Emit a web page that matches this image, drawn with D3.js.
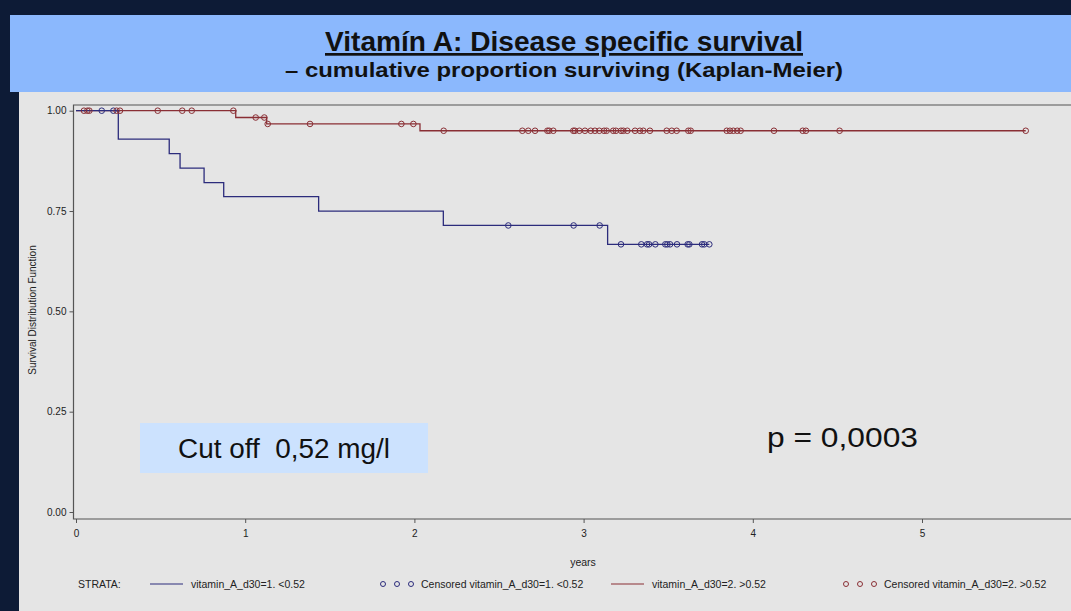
<!DOCTYPE html>
<html>
<head>
<meta charset="utf-8">
<script src="https://cdn.jsdelivr.net/npm/d3@7"></script>
<style>
  body { margin: 0; background: #0d1b36; }
  svg { display: block; font-family: "Liberation Sans", Arial, sans-serif; }
</style>
</head>
<body>
<div id="chart"></div>
<script>
// Kaplan-Meier step data
const lowTimes = [0, 0.25, 0.551, 0.615, 0.757, 0.873, 1.434, 2.171, 3.142];
const lowSurv = [1, 0.929, 0.893, 0.857, 0.821, 0.786, 0.75, 0.714, 0.667];
const lowEnd = 3.743;
const lowCensored = [0.152, 0.221, 2.555, 2.941, 3.095, 3.221, 3.341, 3.375, 3.387, 3.424,
    3.483, 3.495, 3.511, 3.552, 3.615, 3.625, 3.70, 3.713, 3.743];

const highTimes = [0, 0.944, 1.127, 2.033];
const highSurv = [1, 0.983, 0.967, 0.950];
const highEnd = 5.613;
const highCensored = [0.047, 0.067, 0.079, 0.24, 0.26, 0.483, 0.628, 0.684, 0.930, 1.062,
    1.113, 1.133, 1.383, 1.923, 1.994, 2.173, 2.638, 2.673, 2.713, 2.786, 2.797, 2.821,
    2.939, 2.949, 2.975, 3.008, 3.042, 3.067, 3.093, 3.121, 3.136, 3.175, 3.191, 3.221,
    3.235, 3.258, 3.304, 3.333, 3.353, 3.392, 3.491, 3.521, 3.550, 3.619, 3.633, 3.846,
    3.865, 3.885, 3.908, 3.928, 4.125, 4.295, 4.314, 4.513, 5.613];

const xTicks = [0, 1, 2, 3, 4, 5];
const yTicks = [0, 0.25, 0.5, 0.75, 1];

const legendItems = [
    {type: "line", color: "#2c2c7c", label: "vitamin_A_d30=1. <0.52"},
    {type: "dots", color: "#2c2c7c", label: "Censored vitamin_A_d30=1. <0.52"},
    {type: "line", color: "#8a2f35", label: "vitamin_A_d30=2. >0.52"},
    {type: "dots", color: "#8a2f35", label: "Censored vitamin_A_d30=2. >0.52"}
];

const W = 1071, H = 611;
const svg = d3.select("#chart").append("svg")
    .attr("width", W).attr("height", H);

// background layers
svg.append("rect").attr("width", W).attr("height", H).attr("fill", "#0d1b36");
svg.append("rect").attr("x", 10).attr("y", 15).attr("width", W - 10).attr("height", 77)
    .attr("fill", "#8bb8fd");
svg.append("rect").attr("x", 19).attr("y", 92).attr("width", W - 19).attr("height", H - 92)
    .attr("fill", "#e5e5e5");

// titles (stretched to the width seen in the picture)
svg.append("text").attr("x", 325).attr("y", 51)
    .attr("font-size", 27).attr("font-weight", "bold").attr("fill", "#111")
    .attr("text-decoration", "underline")
    .attr("textLength", 478).attr("lengthAdjust", "spacingAndGlyphs")
    .text("Vitamín A: Disease specific survival");
svg.append("text").attr("x", 285).attr("y", 77)
    .attr("font-size", 21).attr("font-weight", "bold").attr("fill", "#111")
    .attr("textLength", 558).attr("lengthAdjust", "spacingAndGlyphs")
    .text("– cumulative proportion surviving (Kaplan-Meier)");

const x = d3.scaleLinear().domain([0, 5]).range([76, 922]);
const y = d3.scaleLinear().domain([0, 1]).range([512, 110.7]);

const frameLeft = 73.5, frameTop = 105, frameBottom = 519;

// frame
svg.append("path")
    .attr("d", `M${W},${frameTop}H${frameLeft}V${frameBottom}H${W}`)
    .attr("fill", "none").attr("stroke", "#555").attr("stroke-width", 1.2);

// axes
const yAxis = svg.append("g")
    .attr("transform", `translate(${frameLeft},0)`)
    .call(d3.axisLeft(y).tickValues(yTicks).tickFormat(d3.format(".2f")).tickSize(4).tickPadding(3));
yAxis.select(".domain").remove();

const xAxis = svg.append("g")
    .attr("transform", `translate(0,${frameBottom})`)
    .call(d3.axisBottom(x).tickValues(xTicks).tickFormat(d3.format("d")).tickSize(4).tickPadding(7));
xAxis.select(".domain").remove();

[yAxis, xAxis].forEach(g => {
    g.selectAll("line").attr("stroke", "#555");
    g.selectAll("text").attr("font-size", 10).attr("fill", "#222")
        .style("font-family", "'Liberation Sans', Arial, sans-serif");
});

svg.append("text")
    .attr("transform", "translate(36,310) rotate(-90)")
    .attr("text-anchor", "middle").attr("font-size", 10).attr("fill", "#222")
    .text("Survival Distribution Function");
svg.append("text").attr("x", 583).attr("y", 566).attr("text-anchor", "middle")
    .attr("font-size", 10.5).attr("fill", "#222").text("years");

// survival curves
function stepPoints(times, surv, end) {
    const pts = times.map((t, i) => [t, surv[i]]);
    pts.push([end, surv[surv.length - 1]]);
    return pts;
}
function survAt(times, surv, t) {
    let s = surv[0];
    times.forEach((tt, i) => { if (tt <= t) s = surv[i]; });
    return s;
}
const line = d3.line().x(d => x(d[0])).y(d => y(d[1])).curve(d3.curveStepAfter);

const groups = [
    {times: lowTimes, surv: lowSurv, end: lowEnd, cens: lowCensored, color: "#2c2c7c"},
    {times: highTimes, surv: highSurv, end: highEnd, cens: highCensored, color: "#8a2f35"}
];

groups.slice().reverse().forEach(g => {
    svg.append("path")
        .datum(stepPoints(g.times, g.surv, g.end))
        .attr("d", line)
        .attr("fill", "none").attr("stroke", g.color).attr("stroke-width", 1.3);
});
groups.forEach(g => {
    svg.append("g").selectAll("circle")
        .data(g.cens)
        .join("circle")
        .attr("cx", d => x(d))
        .attr("cy", d => y(survAt(g.times, g.surv, d)))
        .attr("r", 2.8)
        .attr("fill", "none").attr("stroke", g.color).attr("stroke-width", 1);
});

// annotation box
svg.append("rect").attr("x", 140).attr("y", 423).attr("width", 288).attr("height", 50)
    .attr("fill", "#cce2fe");
svg.append("text").attr("x", 178).attr("y", 458)
    .attr("font-size", 27).attr("fill", "#111")
    .attr("textLength", 212).attr("lengthAdjust", "spacingAndGlyphs")
    .style("white-space", "pre")
    .text("Cut off  0,52 mg/l");
svg.append("text").attr("x", 767).attr("y", 447)
    .attr("font-size", 27).attr("fill", "#111")
    .attr("textLength", 151).attr("lengthAdjust", "spacingAndGlyphs")
    .text("p = 0,0003");

// legend
const legY = 584;
svg.append("text").attr("x", 78).attr("y", legY + 3.5).attr("font-size", 10.5).attr("fill", "#222")
    .text("STRATA:");
const legX = [150, 381, 611, 844];
const leg = svg.append("g");
legendItems.forEach((it, i) => {
    const g = leg.append("g").attr("transform", `translate(${legX[i]},${legY})`);
    if (it.type === "line") {
        g.append("line").attr("x1", 0).attr("x2", 33).attr("stroke", it.color).attr("stroke-width", 1.2);
        g.append("text").attr("x", 41).attr("y", 3.5).attr("font-size", 10.5).attr("fill", "#222").text(it.label);
    } else {
        [0, 14, 28].forEach(dx => g.append("circle").attr("cx", dx + 2).attr("cy", 0).attr("r", 2.5)
            .attr("fill", "none").attr("stroke", it.color).attr("stroke-width", 1));
        g.append("text").attr("x", 40).attr("y", 3.5).attr("font-size", 10.5).attr("fill", "#222").text(it.label);
    }
});
</script>
</body>
</html>
